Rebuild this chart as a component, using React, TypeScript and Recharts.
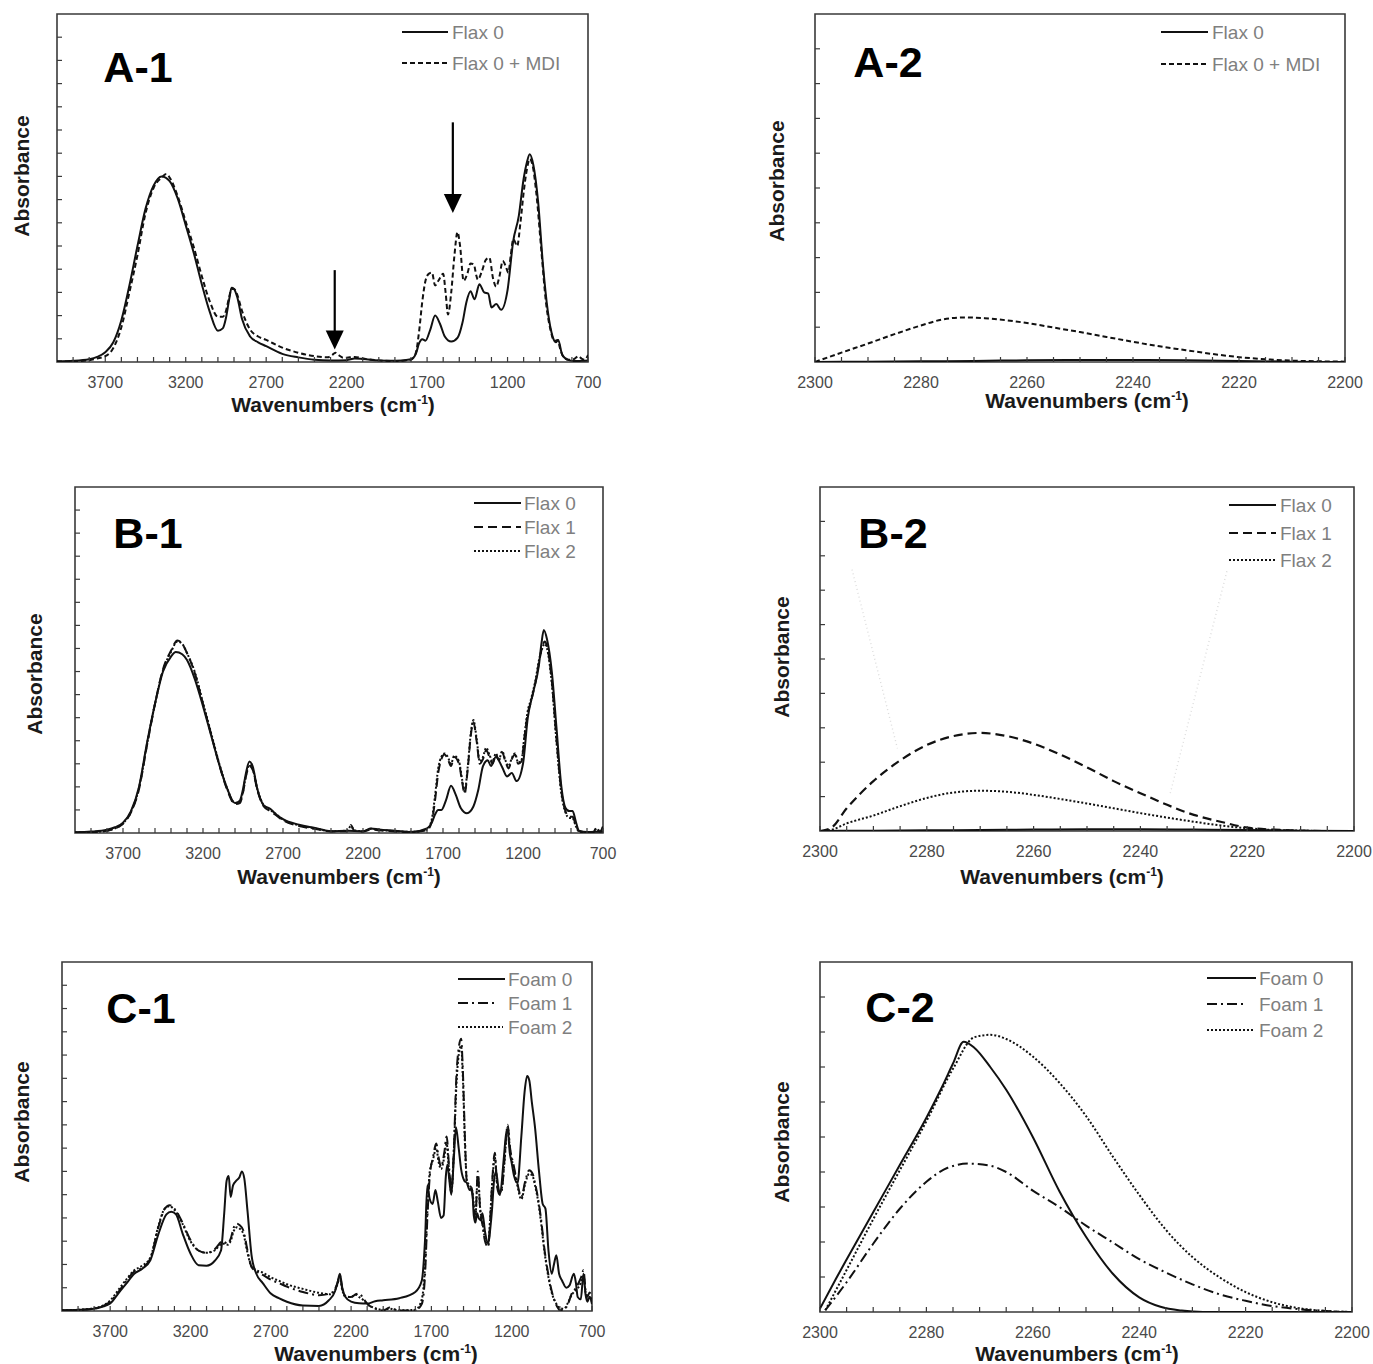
import React from 'react';
import { LineChart, Line, XAxis, YAxis, ReferenceArea, ReferenceLine, ReferenceDot } from 'recharts';

const FONT = 'Arial, "Liberation Sans", Helvetica, sans-serif';

// ---------- tick labels ----------
const WIDE_LABELS = [3700, 3200, 2700, 2200, 1700, 1200, 700];
const NARROW_LABELS = [2300, 2280, 2260, 2240, 2220, 2200];

// ---------- A-1 : Flax 0 vs Flax 0 + MDI ----------
const A1_F0_WN = [
  4000, 3900, 3800, 3750, 3700, 3650, 3600, 3550, 3500, 3450,
  3400, 3350, 3300, 3250, 3200, 3150, 3100, 3050, 3000, 2970,
  2950, 2930, 2915, 2900, 2880, 2850, 2800, 2750, 2700, 2600,
  2500, 2400, 2300, 2200, 2150, 2100, 2000, 1900, 1800, 1770,
  1750, 1730, 1710, 1680, 1650, 1620, 1590, 1550, 1510, 1480,
  1455, 1430, 1405, 1375, 1345, 1320, 1300, 1270, 1240, 1200,
  1165, 1130, 1100, 1080, 1062, 1040, 1010, 980, 950, 920,
  900, 885, 860, 820, 780, 740, 700,
];
const A1_F0 = [
  0.03, 0.05, 0.12, 0.22, 0.42, 0.85, 1.8, 3.3, 5.0, 6.6,
  7.6, 8.0, 7.8, 7.05, 5.9, 4.7, 3.35, 2.15, 1.35, 1.45,
  1.9, 2.7, 3.2, 3.15, 2.8, 1.85, 1.1, 0.85, 0.68, 0.35,
  0.2, 0.1, 0.07, 0.08, 0.15, 0.13, 0.07, 0.05, 0.12, 0.35,
  0.8, 0.98, 0.92, 1.4, 2.0, 1.65, 1.1, 0.88, 1.05, 1.7,
  2.6, 3.05, 2.7, 3.35, 3.0, 2.95, 2.35, 2.5, 2.25, 3.1,
  5.2, 6.3, 7.9, 8.6, 8.95, 8.5, 6.9, 4.2, 2.2, 1.1,
  0.85, 0.95, 0.3, 0.08, 0.04, 0.05, 0.06,
];
const A1_MDI_WN = [
  4000, 3900, 3800, 3750, 3700, 3650, 3600, 3550, 3500, 3450,
  3400, 3350, 3320, 3300, 3250, 3200, 3150, 3100, 3050, 3000,
  2970, 2950, 2930, 2915, 2900, 2880, 2850, 2800, 2750, 2700,
  2600, 2500, 2400, 2320, 2290, 2270, 2250, 2220, 2180, 2150,
  2100, 2000, 1900, 1800, 1770, 1750, 1730, 1710, 1690, 1670,
  1650, 1630, 1600, 1585, 1570, 1550, 1530, 1511, 1495, 1473,
  1450, 1430, 1409, 1395, 1385, 1360, 1335, 1313, 1290, 1271,
  1250, 1230, 1210, 1195, 1180, 1164, 1140, 1120, 1100, 1080,
  1062, 1045, 1020, 990, 960, 930, 910, 890, 870, 850,
  820, 790, 760, 740, 720, 700,
];
const A1_MDI = [
  0.02, 0.03, 0.08, 0.15, 0.25, 0.6, 1.5, 3.0, 4.6, 6.4,
  7.5, 7.95, 8.1, 7.95, 7.15, 6.05, 4.95, 3.7, 2.6, 1.95,
  1.95, 2.2, 2.8, 3.15, 3.15, 2.9, 2.2, 1.4, 1.1, 0.95,
  0.62, 0.4, 0.25, 0.2, 0.3, 0.4, 0.3, 0.18, 0.2, 0.22,
  0.15, 0.07, 0.04, 0.1, 0.4, 1.3, 2.6, 3.5, 3.8, 3.85,
  3.3, 3.5, 3.8, 3.0, 2.05, 3.0, 4.6, 5.6, 5.0, 3.5,
  3.8, 4.25, 4.2, 3.75, 3.55, 3.9, 4.4, 4.5, 3.6, 3.25,
  3.7, 4.35, 4.1, 3.85, 4.6, 5.3, 5.0, 6.0, 7.3, 8.3,
  8.75, 8.5, 7.2, 4.8, 2.5, 1.3, 0.9, 0.95, 0.5, 0.2,
  0.1, 0.12, 0.25, 0.15, 0.1, 0.3,
];

// ---------- A-2 : zoom 2300-2200 ----------
const A2_F0_WN = [2300, 2290, 2280, 2270, 2260, 2250, 2240, 2230, 2220, 2210, 2200];
const A2_F0 = [0.0, 0.01, 0.02, 0.03, 0.05, 0.06, 0.06, 0.05, 0.03, 0.01, 0.0];
const A2_MDI_WN = [
  2300, 2295, 2290, 2285, 2280, 2276, 2272, 2268, 2264, 2260, 2255,
  2250, 2245, 2240, 2235, 2230, 2225, 2220, 2215, 2210, 2205, 2200,
];
const A2_MDI = [
  0.0, 0.27, 0.53, 0.8, 1.05, 1.22, 1.28, 1.26, 1.2, 1.12, 0.99,
  0.86, 0.72, 0.58, 0.45, 0.34, 0.23, 0.14, 0.08, 0.04, 0.02, 0.01,
];

// ---------- B-1 : Flax 0 / 1 / 2 ----------
const B1_F0_WN = [
  4000, 3900, 3800, 3750, 3700, 3650, 3600, 3550, 3500, 3450,
  3400, 3370, 3330, 3300, 3250, 3200, 3150, 3100, 3050, 3000,
  2970, 2950, 2930, 2910, 2890, 2860, 2820, 2780, 2750, 2700,
  2600, 2500, 2400, 2300, 2200, 2150, 2100, 2000, 1900, 1800,
  1770, 1750, 1730, 1710, 1680, 1650, 1620, 1590, 1550, 1510,
  1480, 1450, 1420, 1400, 1370, 1330, 1300, 1270, 1240, 1200,
  1170, 1140, 1100, 1085, 1070, 1050, 1020, 990, 960, 935,
  910, 890, 870, 850, 800, 750, 700,
];
const B1_F0 = [
  0.03, 0.06, 0.14, 0.25, 0.45, 0.95, 2.0, 3.9, 5.6, 7.0,
  7.65, 7.85, 7.75, 7.5, 6.65, 5.5, 4.25, 3.0, 1.95, 1.3,
  1.4, 1.9, 2.65, 3.1, 2.9, 1.9, 1.2, 1.05, 0.85, 0.6,
  0.36, 0.22, 0.08, 0.1, 0.08, 0.2, 0.15, 0.1, 0.04, 0.2,
  0.45, 0.8, 1.0, 1.0, 1.45, 2.05, 1.65, 1.1, 0.86, 1.15,
  1.85, 2.9, 3.15, 2.9, 3.3, 2.85, 2.45, 2.6, 2.25, 3.0,
  5.0, 6.0, 7.3, 8.2, 8.8, 8.4, 7.0, 4.5, 2.0, 1.1,
  0.95, 0.95, 0.5, 0.1, 0.04, 0.05, 0.05,
];
const B1_F12_WN = [
  4000, 3900, 3800, 3750, 3700, 3650, 3600, 3550, 3500, 3450,
  3400, 3360, 3330, 3300, 3250, 3200, 3150, 3100, 3050, 3000,
  2970, 2950, 2930, 2910, 2890, 2860, 2820, 2780, 2750, 2700,
  2600, 2500, 2400, 2300, 2275, 2255, 2200, 2150, 2100, 2000,
  1900, 1800, 1770, 1750, 1730, 1710, 1690, 1670, 1650, 1630,
  1600, 1580, 1565, 1545, 1525, 1510, 1490, 1470, 1450, 1430,
  1410, 1390, 1370, 1350, 1330, 1310, 1290, 1270, 1250, 1230,
  1210, 1190, 1170, 1150, 1120, 1100, 1080, 1065, 1050, 1020,
  990, 960, 935, 910, 890, 870, 850, 800, 760, 740,
  720, 700,
];
const B1_F1 = [
  0.02, 0.04, 0.1, 0.2, 0.4, 0.9, 1.9, 3.8, 5.6, 7.1,
  7.9, 8.35, 8.2, 7.8, 6.9, 5.6, 4.3, 3.0, 1.9, 1.25,
  1.3, 1.75, 2.5, 2.9, 2.75, 1.85, 1.15, 0.95, 0.8, 0.55,
  0.3, 0.18, 0.07, 0.08, 0.35, 0.1, 0.06, 0.15, 0.12, 0.06,
  0.04, 0.12, 0.5, 1.4, 2.6, 3.2, 3.4, 3.2, 2.9, 3.3,
  3.0, 2.2, 1.7, 2.8, 4.3, 4.8, 4.0, 3.0, 3.2, 3.6,
  3.3, 3.0, 3.4, 3.15, 3.5, 3.1, 2.8, 3.2, 3.4, 3.0,
  3.1, 4.2, 5.2, 5.7, 6.6, 7.4, 8.05, 8.3, 8.1, 6.6,
  4.0, 1.8, 0.95, 0.7, 0.7, 0.35, 0.08, 0.03, 0.04, 0.25,
  0.05, 0.3,
];
const B1_F2 = [
  0.02, 0.04, 0.1, 0.2, 0.42, 0.92, 1.95, 3.85, 5.6, 7.05,
  7.85, 8.3, 8.2, 7.8, 6.95, 5.65, 4.35, 3.05, 1.95, 1.3,
  1.35, 1.8, 2.55, 2.95, 2.8, 1.9, 1.2, 1.0, 0.85, 0.58,
  0.33, 0.2, 0.08, 0.1, 0.3, 0.12, 0.08, 0.18, 0.14, 0.08,
  0.05, 0.15, 0.6, 1.6, 2.8, 3.3, 3.45, 3.3, 3.0, 3.35,
  3.1, 2.3, 1.8, 2.9, 4.4, 4.9, 4.1, 3.1, 3.3, 3.7,
  3.4, 3.1, 3.45, 3.2, 3.55, 3.15, 2.9, 3.25, 3.45, 3.05,
  3.15, 4.3, 5.3, 5.8, 6.7, 7.5, 8.0, 8.2, 8.0, 6.5,
  3.9, 1.7, 0.9, 0.65, 0.65, 0.3, 0.06, 0.02, 0.03, 0.2,
  0.04, 0.25,
];

// ---------- B-2 : zoom 2300-2200 ----------
const B2_F0_WN = [2300, 2290, 2280, 2270, 2260, 2250, 2240, 2230, 2220, 2210, 2200];
const B2_F0 = [0.0, 0.01, 0.02, 0.03, 0.04, 0.05, 0.05, 0.04, 0.03, 0.01, 0.0];
const B2_F12_WN = [
  2300, 2298, 2295, 2290, 2285, 2280, 2275, 2270, 2265, 2260, 2255,
  2250, 2245, 2240, 2235, 2230, 2225, 2220, 2215, 2210, 2205, 2200,
];
const B2_F1 = [
  0.0, 0.08, 0.66, 1.45, 2.05, 2.5, 2.76, 2.85, 2.76, 2.54, 2.22,
  1.85, 1.45, 1.1, 0.76, 0.47, 0.27, 0.1, 0.04, 0.01, 0.0, 0.0,
];
const B2_F2 = [
  0.0, 0.03, 0.22, 0.45, 0.72, 0.96, 1.12, 1.17, 1.14, 1.05, 0.93,
  0.8, 0.66, 0.52, 0.39, 0.27, 0.16, 0.08, 0.03, 0.01, 0.0, 0.0,
];

// ---------- C-1 : Foam 0 / 1 / 2 ----------
const C1_F0_WN = [
  4000, 3900, 3800, 3750, 3700, 3650, 3600, 3550, 3500, 3450,
  3400, 3350, 3320, 3290, 3250, 3200, 3150, 3100, 3050, 3010,
  2990, 2975, 2962, 2950, 2935, 2915, 2895, 2880, 2865, 2845,
  2820, 2790, 2750, 2700, 2650, 2600, 2500, 2400, 2340, 2300,
  2285, 2270, 2255, 2235, 2200, 2150, 2100, 2050, 2000, 1900,
  1800, 1760, 1740, 1725, 1710, 1692, 1675, 1660, 1640, 1624,
  1610, 1600, 1588, 1576, 1560, 1547, 1530, 1515, 1495, 1479,
  1462, 1447, 1436, 1426, 1415, 1406, 1394, 1382, 1366, 1346,
  1334, 1322, 1310, 1297, 1285, 1273, 1250, 1235, 1225, 1212,
  1201, 1185, 1164, 1140, 1120, 1104, 1090, 1075, 1055, 1030,
  1007, 990, 971, 951, 937, 922, 905, 886, 860, 840,
  813, 800, 789, 770, 753, 740, 729, 715, 700,
];
const C1_F0 = [
  0.03, 0.05, 0.1, 0.18, 0.32, 0.75, 1.18, 1.6, 1.82, 2.18,
  3.3, 4.15, 4.27, 4.15, 3.35, 2.47, 1.97, 1.95, 2.15, 2.6,
  4.2, 5.6, 5.8, 4.9, 5.4, 5.6, 5.75, 6.0, 5.7, 4.3,
  2.4, 1.6, 1.2, 0.75, 0.55, 0.4, 0.24, 0.22, 0.45, 0.85,
  1.2, 1.6, 1.0, 0.6, 0.4, 0.33, 0.32, 0.42, 0.46, 0.55,
  0.82, 1.3, 3.0, 5.4, 4.8, 4.6, 5.2, 4.7, 4.0, 4.1,
  5.8, 6.3, 5.6, 5.0, 6.6, 7.9, 7.0, 6.1, 5.6, 5.5,
  5.2, 5.3, 4.1, 3.8, 4.2, 4.0, 3.9, 4.2, 3.4, 2.9,
  3.5, 4.4, 5.6, 6.0, 5.4, 5.0, 6.5, 7.6, 7.8, 6.8,
  6.4, 5.8, 5.5, 7.5, 9.4, 10.1, 9.9, 9.0, 7.9, 6.0,
  4.6, 4.4, 2.6, 1.6, 2.0, 2.4, 1.6, 1.3, 1.0, 1.1,
  1.6, 1.2, 0.6, 0.5, 1.6, 0.7, 0.4, 0.6, 0.3,
];
const C1_F12_WN = [
  4000, 3900, 3800, 3750, 3700, 3650, 3600, 3550, 3500, 3450,
  3400, 3360, 3330, 3300, 3250, 3200, 3150, 3100, 3050, 3000,
  2970, 2950, 2930, 2910, 2895, 2870, 2845, 2820, 2790, 2750,
  2700, 2650, 2600, 2500, 2400, 2330, 2300, 2285, 2270, 2255,
  2235, 2200, 2170, 2150, 2120, 2100, 2050, 2000, 1960, 1940,
  1900, 1800, 1760, 1740, 1725, 1710, 1690, 1670, 1655, 1640,
  1620, 1605, 1590, 1576, 1560, 1545, 1530, 1515, 1505, 1490,
  1479, 1462, 1447, 1426, 1411, 1396, 1382, 1366, 1346, 1335,
  1322, 1305, 1290, 1275, 1261, 1245, 1225, 1210, 1189, 1165,
  1140, 1115, 1091, 1070, 1055, 1035, 1019, 995, 970, 947,
  925, 898, 874, 850, 826, 800, 777, 765, 753, 740,
  729, 715, 700,
];
const C1_F1 = [
  0.02, 0.04, 0.1, 0.2, 0.4, 0.8, 1.3, 1.7, 1.85, 2.25,
  3.6, 4.4, 4.55, 4.4, 3.8, 3.05, 2.6, 2.5, 2.65, 3.0,
  2.9, 3.1, 3.6, 3.75, 3.7, 3.45, 2.6, 1.9, 1.7, 1.55,
  1.35, 1.2, 1.05, 0.82, 0.68, 0.75, 0.95, 1.2, 1.55, 0.95,
  0.6, 0.6, 0.72, 0.75, 0.5, 0.32, 0.1, 0.02, 0.15, 0.1,
  0.02, 0.03, 0.3, 1.5, 4.0, 5.8, 6.6, 7.2, 6.6, 6.2,
  6.8, 7.5, 6.2, 5.2, 7.0, 10.0, 11.3, 11.7, 10.5, 7.2,
  5.5, 5.3, 5.1, 4.0, 6.0, 4.3, 3.7, 3.0, 2.75, 3.8,
  5.5, 6.8, 5.3, 5.0, 5.2, 6.5, 8.0, 7.0, 6.3, 5.5,
  4.9, 5.6, 6.05, 5.9, 5.5, 4.8, 4.05, 2.6, 1.5, 0.75,
  0.3, 0.03, 0.05, 0.3, 0.75, 1.0, 1.3, 1.5, 1.75, 0.9,
  0.6, 0.8, 0.5,
];
const C1_F2 = [
  0.02, 0.05, 0.12, 0.22, 0.45, 0.9, 1.35, 1.75, 1.95, 2.3,
  3.65, 4.4, 4.5, 4.35, 3.75, 3.0, 2.6, 2.5, 2.6, 2.9,
  2.85, 3.0, 3.45, 3.6, 3.55, 3.3, 2.5, 1.9, 1.75, 1.65,
  1.45, 1.3, 1.15, 0.95, 0.78, 0.72, 0.9, 1.15, 1.45, 0.9,
  0.65, 0.6, 0.7, 0.6, 0.45, 0.3, 0.12, 0.05, 0.1, 0.08,
  0.03, 0.05, 0.5, 1.9, 4.3, 6.0, 6.5, 7.0, 6.4, 6.1,
  6.6, 7.2, 6.0, 5.1, 6.9, 9.6, 11.0, 11.4, 10.2, 7.0,
  5.6, 5.4, 5.2, 4.1, 5.8, 4.4, 3.8, 3.1, 2.85, 3.9,
  5.4, 6.6, 5.4, 5.1, 5.3, 6.4, 7.9, 6.9, 6.2, 5.4,
  4.8, 5.5, 5.9, 5.8, 5.4, 4.7, 3.9, 2.5, 1.4, 0.7,
  0.35, 0.12, 0.1, 0.35, 0.7, 0.9, 1.1, 1.3, 1.5, 0.8,
  0.5, 0.6, 0.4,
];

// ---------- C-2 : zoom 2300-2200 ----------
const C2_F0_WN = [
  2300, 2297, 2295, 2290, 2285, 2280, 2277, 2275, 2273, 2271, 2268, 2265,
  2260, 2255, 2250, 2245, 2240, 2236, 2232, 2228, 2220, 2210, 2200,
];
const C2_F0 = [
  0.1, 0.95, 1.5, 2.85, 4.2, 5.55, 6.45, 7.1, 7.72, 7.55, 7.0, 6.35,
  5.0, 3.45, 2.15, 1.1, 0.42, 0.15, 0.04, 0.0, 0.0, 0.0, 0.0,
];
const C2_F1_WN = [
  2299, 2295, 2290, 2285, 2280, 2276, 2272, 2268, 2265, 2260, 2255,
  2250, 2245, 2240, 2235, 2230, 2225, 2220, 2215, 2210, 2205, 2200,
];
const C2_F1 = [
  0.05, 0.85, 1.95, 2.95, 3.72, 4.12, 4.24, 4.18, 4.0, 3.47, 3.0,
  2.47, 1.99, 1.51, 1.13, 0.79, 0.51, 0.32, 0.17, 0.08, 0.03, 0.0,
];
const C2_F2_WN = [
  2299, 2295, 2290, 2285, 2280, 2275, 2271, 2268, 2265, 2260, 2255,
  2250, 2245, 2240, 2235, 2230, 2225, 2220, 2215, 2210, 2205, 2200,
];
const C2_F2 = [
  0.05, 1.2, 2.65, 4.05, 5.45, 6.95, 7.85, 7.92, 7.8, 7.3, 6.55,
  5.6, 4.45, 3.35, 2.35, 1.57, 1.0, 0.57, 0.28, 0.11, 0.03, 0.0,
];

// ---------- helpers ----------
type Series = { wn: number[]; a: number[]; dash?: string; w?: number };
type Box = { x: number; y: number; w: number; h: number };

const zip = (wn: number[], a: number[]) => wn.map((w, i) => ({ wn: w, a: a[i] }));

const range = (from: number, to: number, step: number) => {
  const out: number[] = [];
  for (let v = from; v >= to; v -= step) out.push(v);
  return out;
};

const WIDE_TICKS = range(3900, 700, 100);
const NARROW_TICKS = range(2300, 2200, 5);
const AXIS = '#3a3a3a';
const INK = '#111';

const DASH_A = '5 3';
const DASH_B = '9 5';
const DOT = '2 2';
const DASHDOT = '10 4 2 4';

function Panel({ box, wide, yMax, series, children }: {
  box: Box; wide: boolean; yMax: number; series: Series[]; children?: React.ReactNode;
}) {
  const padX = 30;
  const padY = 10;
  const xMin = wide ? 700 : 2200;
  const xMax = wide ? 4000 : 2300;
  const labels = wide ? WIDE_LABELS : NARROW_LABELS;
  const yTicks = Array.from({ length: yMax - 1 }, (_, i) => i + 1);

  const xTick = (p: any) => {
    const v = p.payload.value;
    return (
      <g>
        <line x1={p.x} y1={p.y} x2={p.x} y2={p.y - 5} stroke={AXIS} strokeWidth={1.2} />
        {labels.includes(v) && (
          <text x={p.x} y={p.y + 20} textAnchor="middle" dominantBaseline="central"
            fontSize={16} fill="#4a4a4a" fontFamily={FONT}>{v}</text>
        )}
      </g>
    );
  };
  const yTick = (p: any) => (
    <line x1={p.x} y1={p.y} x2={p.x + 5} y2={p.y} stroke={AXIS} strokeWidth={1.2} />
  );

  return (
    <div style={{ position: 'absolute', left: box.x - padX, top: box.y - padY }}>
      <LineChart width={box.w + 2 * padX} height={box.h + padY + 34}
        margin={{ top: padY, right: padX, bottom: 0, left: padX - 1 }}>
        <XAxis type="number" dataKey="wn" domain={[xMin, xMax]} reversed allowDataOverflow
          ticks={wide ? WIDE_TICKS : NARROW_TICKS} interval={0} height={34}
          axisLine={false} tickLine={false} tickSize={0} tickMargin={0} tick={xTick} />
        <YAxis type="number" domain={[0, yMax]} allowDataOverflow ticks={yTicks} interval={0}
          width={1} axisLine={false} tickLine={false} tickSize={0} tickMargin={0} tick={yTick} />
        <ReferenceArea x1={xMin} x2={xMax} y1={0} y2={yMax} fill="none"
          stroke={AXIS} strokeWidth={1.6} ifOverflow="visible" />
        {series.map((s, i) => (
          <Line key={i} data={zip(s.wn, s.a)} dataKey="a" type="monotone" stroke={INK}
            strokeWidth={s.w ?? 2} strokeDasharray={s.dash} dot={false} activeDot={false}
            isAnimationActive={false} />
        ))}
        {children}
      </LineChart>
    </div>
  );
}

const arrowHead = (p: any) => (
  <polygon points={`${p.cx - 9},${p.cy - 19} ${p.cx + 9},${p.cy - 19} ${p.cx},${p.cy}`} fill="#000" />
);

function Txt({ cx, cy, size, bold, color, rotate, children }: {
  cx: number; cy: number; size: number; bold?: boolean; color?: string; rotate?: boolean; children: React.ReactNode;
}) {
  return (
    <div style={{
      position: 'absolute', left: cx, top: cy,
      transform: `translate(-50%, -50%)${rotate ? ' rotate(-90deg)' : ''}`,
      fontSize: size, fontWeight: bold ? 700 : 400, color: color ?? '#1a1a1a',
      whiteSpace: 'nowrap', lineHeight: 1,
    }}>{children}</div>
  );
}

const WaveTitle = ({ cx, cy }: { cx: number; cy: number }) => (
  <Txt cx={cx} cy={cy} size={21} bold>
    Wavenumbers (cm<span style={{ fontSize: 12, verticalAlign: 8 }}>-1</span>)
  </Txt>
);

type LegendRow = { label: string; dash?: string; x1: number; x2: number; y: number };

const LEGENDS: { textX: number; rows: LegendRow[] }[] = [
  { textX: 452, rows: [
    { label: 'Flax 0', x1: 402, x2: 448, y: 32 },
    { label: 'Flax 0 + MDI', dash: DASH_A, x1: 402, x2: 448, y: 63 },
  ] },
  { textX: 1212, rows: [
    { label: 'Flax 0', x1: 1161, x2: 1208, y: 32 },
    { label: 'Flax 0 + MDI', dash: DASH_A, x1: 1161, x2: 1208, y: 64 },
  ] },
  { textX: 524, rows: [
    { label: 'Flax 0', x1: 474, x2: 521, y: 503 },
    { label: 'Flax 1', dash: DASH_B, x1: 474, x2: 521, y: 527 },
    { label: 'Flax 2', dash: DOT, x1: 474, x2: 521, y: 551 },
  ] },
  { textX: 1280, rows: [
    { label: 'Flax 0', x1: 1229, x2: 1276, y: 505 },
    { label: 'Flax 1', dash: DASH_B, x1: 1229, x2: 1276, y: 533 },
    { label: 'Flax 2', dash: DOT, x1: 1229, x2: 1276, y: 560 },
  ] },
  { textX: 508, rows: [
    { label: 'Foam 0', x1: 458, x2: 505, y: 979 },
    { label: 'Foam 1', dash: DASHDOT, x1: 458, x2: 496, y: 1003 },
    { label: 'Foam 2', dash: DOT, x1: 458, x2: 503, y: 1027 },
  ] },
  { textX: 1259, rows: [
    { label: 'Foam 0', x1: 1207, x2: 1256, y: 978 },
    { label: 'Foam 1', dash: DASHDOT, x1: 1207, x2: 1246, y: 1004 },
    { label: 'Foam 2', dash: DOT, x1: 1207, x2: 1253, y: 1030 },
  ] },
];

export default function App() {
  return (
    <div style={{ position: 'absolute', left: 0, top: 0, width: 1373, height: 1364, background: '#fff', fontFamily: FONT, overflow: 'hidden' }}>
      <Panel box={{ x: 57, y: 14, w: 531, h: 348 }} wide yMax={15} series={[
        { wn: A1_F0_WN, a: A1_F0 },
        { wn: A1_MDI_WN, a: A1_MDI, dash: DASH_A },
      ]}>
        <ReferenceLine segment={[{ x: 2274, y: 3.96 }, { x: 2274, y: 1.2 }]} stroke="#000" strokeWidth={2.2} />
        <ReferenceDot x={2274} y={0.54} r={1} shape={arrowHead} />
        <ReferenceLine segment={[{ x: 1540, y: 10.33 }, { x: 1540, y: 7.1 }]} stroke="#000" strokeWidth={2.2} />
        <ReferenceDot x={1540} y={6.42} r={1} shape={arrowHead} />
      </Panel>

      <Panel box={{ x: 815, y: 14, w: 530, h: 348 }} wide={false} yMax={10} series={[
        { wn: A2_F0_WN, a: A2_F0 },
        { wn: A2_MDI_WN, a: A2_MDI, dash: DASH_A },
      ]} />

      <Panel box={{ x: 75, y: 487, w: 528, h: 346 }} wide yMax={15} series={[
        { wn: B1_F12_WN, a: B1_F2, dash: DOT },
        { wn: B1_F12_WN, a: B1_F1, dash: DASH_B },
        { wn: B1_F0_WN, a: B1_F0 },
      ]} />

      <Panel box={{ x: 820, y: 487, w: 534, h: 344 }} wide={false} yMax={10} series={[
        { wn: B2_F0_WN, a: B2_F0 },
        { wn: B2_F12_WN, a: B2_F1, dash: DASH_B, w: 2.2 },
        { wn: B2_F12_WN, a: B2_F2, dash: DOT },
      ]}>
        <ReferenceLine segment={[{ x: 2294, y: 7.6 }, { x: 2285.5, y: 2.4 }]} stroke="#dcdcdc" strokeDasharray="1 3" strokeWidth={1.4} />
        <ReferenceLine segment={[{ x: 2223.8, y: 7.55 }, { x: 2234.4, y: 1.1 }]} stroke="#dcdcdc" strokeDasharray="1 3" strokeWidth={1.4} />
      </Panel>

      <Panel box={{ x: 62, y: 962, w: 530, h: 349 }} wide yMax={15} series={[
        { wn: C1_F12_WN, a: C1_F2, dash: DOT },
        { wn: C1_F12_WN, a: C1_F1, dash: DASHDOT },
        { wn: C1_F0_WN, a: C1_F0 },
      ]} />

      <Panel box={{ x: 820, y: 962, w: 532, h: 350 }} wide={false} yMax={10} series={[
        { wn: C2_F2_WN, a: C2_F2, dash: DOT },
        { wn: C2_F1_WN, a: C2_F1, dash: DASHDOT },
        { wn: C2_F0_WN, a: C2_F0 },
      ]} />

      {/* panel labels */}
      <Txt cx={138} cy={67} size={43} bold color="#000">A-1</Txt>
      <Txt cx={888} cy={62} size={43} bold color="#000">A-2</Txt>
      <Txt cx={148} cy={533} size={43} bold color="#000">B-1</Txt>
      <Txt cx={893} cy={533} size={43} bold color="#000">B-2</Txt>
      <Txt cx={141} cy={1008} size={43} bold color="#000">C-1</Txt>
      <Txt cx={900} cy={1007} size={43} bold color="#000">C-2</Txt>

      {/* axis titles */}
      <WaveTitle cx={333} cy={404} />
      <WaveTitle cx={1087} cy={400} />
      <WaveTitle cx={339} cy={876} />
      <WaveTitle cx={1062} cy={876} />
      <WaveTitle cx={376} cy={1353} />
      <WaveTitle cx={1077} cy={1353} />

      <Txt cx={21} cy={176} size={21} bold rotate>Absorbance</Txt>
      <Txt cx={776} cy={181} size={21} bold rotate>Absorbance</Txt>
      <Txt cx={34} cy={674} size={21} bold rotate>Absorbance</Txt>
      <Txt cx={781} cy={657} size={21} bold rotate>Absorbance</Txt>
      <Txt cx={21} cy={1122} size={21} bold rotate>Absorbance</Txt>
      <Txt cx={781} cy={1142} size={21} bold rotate>Absorbance</Txt>

      {/* legends */}
      <svg width={1373} height={1364} style={{ position: 'absolute', left: 0, top: 0, pointerEvents: 'none' }}>
        {LEGENDS.flatMap((lg, i) => lg.rows.map((r, j) => (
          <line key={`${i}-${j}`} x1={r.x1} x2={r.x2} y1={r.y} y2={r.y} stroke={INK} strokeWidth={2} strokeDasharray={r.dash} />
        )))}
      </svg>
      {LEGENDS.flatMap((lg, i) => lg.rows.map((r, j) => (
        <div key={`t${i}-${j}`} style={{
          position: 'absolute', left: lg.textX, top: r.y, transform: 'translateY(-50%)',
          fontSize: 19, color: '#7f7f7f', lineHeight: 1, whiteSpace: 'nowrap',
        }}>{r.label}</div>
      )))}
    </div>
  );
}
